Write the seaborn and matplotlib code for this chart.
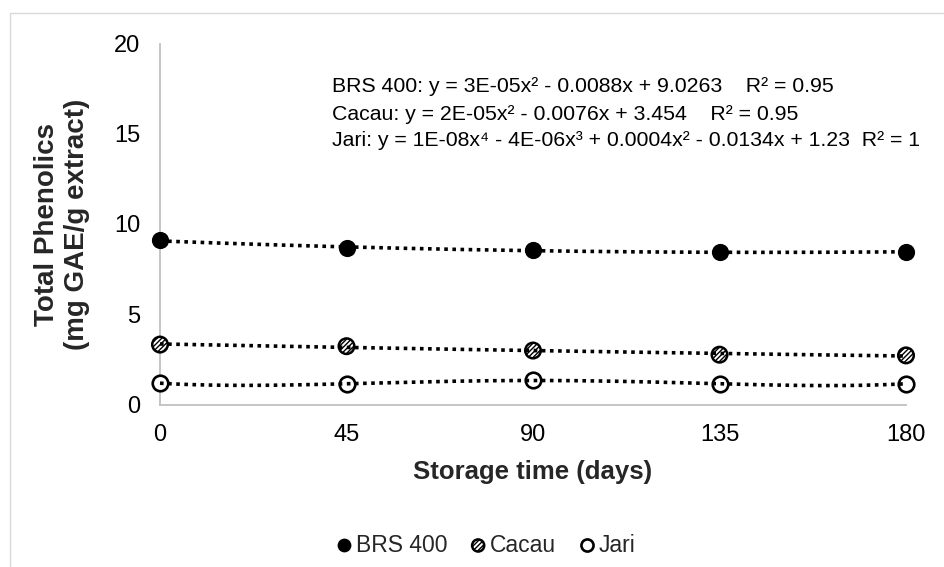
import numpy as np
import pandas as pd
import matplotlib
matplotlib.use("Agg")
import matplotlib.pyplot as plt
import seaborn as sns
from matplotlib.lines import Line2D

# ---- data ----
days = [0, 45, 90, 135, 180]
brs400 = [9.09, 8.67, 8.54, 8.47, 8.44]
cacau = [3.32, 3.23, 2.99, 2.76, 2.72]
jari = [1.18, 1.15, 1.33, 1.15, 1.15]
series_names = ["BRS 400", "Cacau", "Jari"]
fit_degrees = [2, 2, 4]
equations = [
    "BRS 400: y = 3E-05x² - 0.0088x + 9.0263    R² = 0.95",
    "Cacau: y = 2E-05x² - 0.0076x + 3.454    R² = 0.95",
    "Jari: y = 1E-08x⁴ - 4E-06x³ + 0.0004x² - 0.0134x + 1.23  R² = 1",
]
xticks = [0, 45, 90, 135, 180]
yticks = [0, 5, 10, 15, 20]

sns.set_theme(style="white")
plt.rcParams["font.family"] = ["Liberation Sans", "DejaVu Sans"]

W, H = 944, 567
fig = plt.figure(figsize=(W / 100, H / 100), dpi=100)
ax = fig.add_axes([160 / W, 1 - 404.5 / H, (906 - 160) / W, (404.5 - 43.5) / H])

df = pd.DataFrame({"days": days, "BRS 400": brs400, "Cacau": cacau, "Jari": jari})

styles = {
    "BRS 400": dict(color="black", edgecolor="black", linewidth=1.2),
    "Cacau": dict(color="white", edgecolor="black", linewidth=1.8, hatch="///////"),
    "Jari": dict(color="white", edgecolor="black", linewidth=1.9),
}

handles = []
xs = np.linspace(0, 180, 200)
for name, deg in zip(series_names, fit_degrees):
    sns.scatterplot(data=df, x="days", y=name, ax=ax, s=125, marker="o",
                    clip_on=False, zorder=3, **styles[name])
    handles.append(ax.collections[-1])
    coef = np.polyfit(df["days"], df[name], deg)
    ax.plot(xs, np.polyval(coef, xs), color="black", lw=2.6,
            linestyle=(0, (1, 1.25)), zorder=4, clip_on=False)

ax.set_xlim(0, 180)
ax.set_ylim(0, 20)
ax.set_xticks(xticks)
ax.set_yticks(yticks)
ax.tick_params(axis="both", length=0, labelsize=17, colors="black")
ax.tick_params(axis="y", pad=14)
ax.tick_params(axis="x", pad=14)
for s in ["top", "right"]:
    ax.spines[s].set_visible(False)
for s in ["left", "bottom"]:
    ax.spines[s].set_color("#c0c0c0")
    ax.spines[s].set_linewidth(1.3)

ax.set_xlabel("Storage time (days)", fontsize=18.5, fontweight="bold", labelpad=10)
ax.set_ylabel("Total Phenolics\n(mg GAE/g extract)", fontsize=20,
              fontweight="bold", linespacing=1.2)
ax.yaxis.set_label_coords((90 - 160) / (906 - 160), 0.5)

for eq, yy in zip(equations, [86, 114, 140]):
    fig.text(332 / W, 1 - yy / H, eq, fontsize=15.3, ha="left", va="center",
             color="black")

fig.legend(handles, series_names, loc="center",
           bbox_to_anchor=(485 / W, 1 - 545 / H), ncol=3, frameon=False,
           fontsize=16.5, handletextpad=0.1, handlelength=0.85, columnspacing=0.9,
           markerscale=0.78, scatterpoints=1)

# chart border
fig.add_artist(Line2D([10 / W, 1], [1 - 13 / H, 1 - 13 / H], color="#d9d9d9",
                      lw=1.0, transform=fig.transFigure))
fig.add_artist(Line2D([10 / W, 10 / W], [0, 1 - 13 / H], color="#d9d9d9",
                      lw=1.0, transform=fig.transFigure))

fig.savefig("out.png", dpi=100)
